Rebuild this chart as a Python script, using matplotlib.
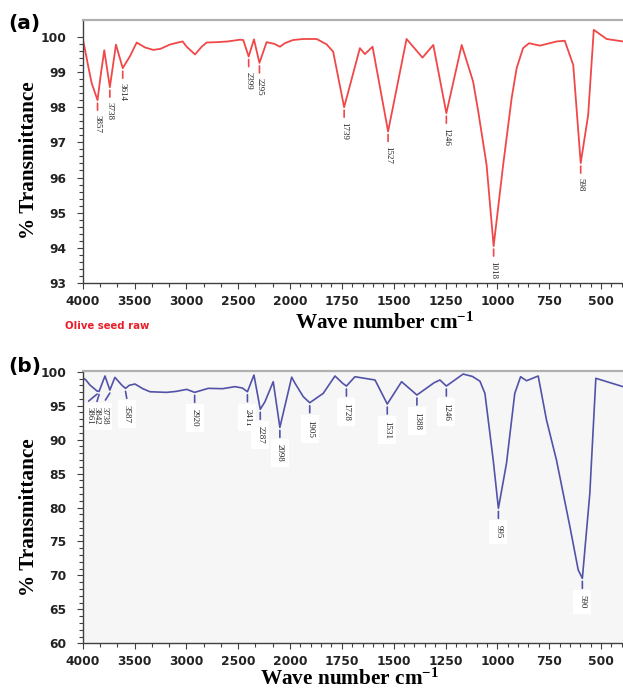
import numpy as np
import matplotlib
matplotlib.use('Agg')
import matplotlib.pyplot as plt
from matplotlib.transforms import ScaledTranslation
from matplotlib.ticker import FixedLocator, FuncFormatter

# ---------------- data ----------------
# (a) Olive seed raw
wn_a = [4000, 3975, 3946, 3913, 3857, 3826, 3792, 3738, 3679, 3614, 3544, 3479,
        3400, 3319, 3250, 3160, 3094, 3036, 2997, 2917, 2852, 2804, 2700, 2600,
        2483, 2451, 2399, 2348, 2295, 2226, 2150, 2097, 2050, 1986, 1936, 1872,
        1824, 1792, 1739, 1663, 1639, 1602, 1527, 1438, 1361, 1309, 1246, 1172,
        1117, 1092, 1052, 1018, 972, 931, 907, 876, 847, 795, 714, 675, 634,
        598, 562, 535, 473, 394]
tr_a = [99.95, 99.6, 99.15, 98.68, 98.2, 98.92, 99.62, 98.57, 99.78, 99.11, 99.45, 99.84,
        99.70, 99.63, 99.66, 99.78, 99.83, 99.87, 99.72, 99.5, 99.72, 99.84, 99.85, 99.87,
        99.92, 99.91, 99.44, 99.93, 99.26, 99.85, 99.8, 99.72, 99.82, 99.91, 99.94, 99.94,
        99.79, 99.58, 98.0, 99.68, 99.51, 99.72, 97.31, 99.94, 99.41, 99.77, 97.83, 99.77,
        98.73, 97.87, 96.36, 94.05, 96.36, 98.26, 99.11, 99.68, 99.82, 99.75, 99.87, 99.89, 99.2,
        96.41, 97.78, 100.2, 99.94, 99.87]
peaks_a = [3857, 3738, 3614, 2399, 2295, 1739, 1527, 1246, 1018, 598]
peak_t_a = [98.2, 98.57, 99.11, 99.44, 99.26, 98.0, 97.31, 97.83, 94.05, 96.41]

# (b)
wn_b = [4000, 3970, 3930, 3861, 3842, 3785, 3738, 3689, 3624, 3587, 3550, 3496,
        3420, 3351, 3190, 3100, 2997, 2920, 2789, 2650, 2531, 2460, 2411, 2348,
        2287, 2242, 2162, 2098, 1992, 1976, 1936, 1905, 1840, 1783, 1746, 1728,
        1687, 1590, 1531, 1462, 1388, 1305, 1277, 1246, 1165, 1120, 1084, 1060,
        1020, 995, 956, 916, 888, 859, 803, 763, 715, 650, 610, 590, 554, 525, 394]
tr_b = [99.1, 98.8, 98.04, 97.15, 97.1, 99.37, 97.3, 99.17, 98.04, 97.55, 98.0, 98.19,
        97.5, 97.05, 96.96, 97.1, 97.4, 96.96, 97.55, 97.5, 97.8, 97.6, 97.05, 99.51,
        94.46, 95.58, 98.53, 91.8, 99.2, 98.3, 96.32, 95.43, 96.81, 99.37, 98.29, 97.89,
        99.26, 98.78, 95.24, 98.53, 96.57, 98.38, 98.78, 97.89, 99.66, 99.3, 98.6, 96.81,
        87.0, 79.88, 86.5, 96.81, 99.26, 98.67, 99.37, 92.89, 87.0, 77.17, 70.8, 69.57, 82.1, 99.03, 97.8]
# crowded group of labels drawn side by side
cluster_b = [3861, 3842, 3738]
cluster_t_b = [97.15, 97.1, 97.3]
cluster_lx_b = [3943, 3862, 3781]
peaks_b = [3587, 2920, 2411, 2287, 2098, 1905, 1728, 1531, 1388, 1246, 995, 590]
peak_t_b = [97.55, 96.96, 97.05, 94.46, 91.8, 95.43, 97.89, 95.24, 96.57, 97.89, 79.88, 69.57]
label_x_b = [3575, 2920, 2411, 2287, 2098, 1905, 1728, 1531, 1388, 1246, 995, 590]

xticks_major = [4000, 3500, 3000, 2500, 2000, 1750, 1500, 1250, 1000, 750, 500]
yticks_a = [93, 94, 95, 96, 97, 98, 99, 100]
yticks_b = [60, 65, 70, 75, 80, 85, 90, 95, 100]

# ---------------- style ----------------
plt.rcParams['mathtext.fontset'] = 'custom'
plt.rcParams['mathtext.rm'] = 'Liberation Serif:bold'
plt.rcParams['mathtext.it'] = 'Liberation Serif:bold:italic'
plt.rcParams['mathtext.bf'] = 'Liberation Serif:bold'

W, H = 623, 689
fig = plt.figure(figsize=(W / 100, H / 100), dpi=100)


# axis is expanded 2x below 2000 cm-1 (increasing mapping)
def fwd(w):
    w = np.asarray(w, dtype=float)
    return np.where(w >= 2000, w, 2 * w - 2000)


def inv(v):
    v = np.asarray(v, dtype=float)
    return np.where(v >= 2000, v, (v + 2000) / 2)


minor_x = list(np.arange(4000, 2000, -500 / 3)) + list(np.arange(2000, 390, -50))


def off(ax, dy_px):
    return ax.transData + ScaledTranslation(0, -dy_px / 100, fig.dpi_scale_trans)


def setup(ax, ylim, yticks, yminor):
    ax.set_xscale('function', functions=(fwd, inv))
    ax.set_xlim(4000, 394)
    ax.set_ylim(*ylim)
    ax.xaxis.set_major_locator(FixedLocator(xticks_major))
    ax.xaxis.set_minor_locator(FixedLocator(minor_x))
    ax.xaxis.set_major_formatter(FuncFormatter(lambda v, p: f"{int(round(v))}"))
    ax.yaxis.set_major_locator(FixedLocator(yticks))
    ax.yaxis.set_minor_locator(FixedLocator(yminor))
    ax.yaxis.set_major_formatter(FuncFormatter(lambda v, p: f"{int(round(v))}"))
    ax.spines['right'].set_visible(False)
    ax.spines['top'].set_color('#b0b0b0')
    ax.spines['top'].set_linewidth(1.6)
    for s in ('left', 'bottom'):
        ax.spines[s].set_color('#404040')
        ax.spines[s].set_linewidth(1.0)
    ax.tick_params(which='both', direction='out', color='#404040', width=0.8)
    ax.tick_params(which='major', length=4)
    ax.tick_params(which='minor', length=3)
    ax.tick_params(axis='x', which='major', pad=4.5)
    ax.tick_params(axis='y', which='major', pad=8)
    for lab in ax.get_xticklabels() + ax.get_yticklabels():
        lab.set_fontfamily('DejaVu Sans')
        lab.set_fontweight('bold')
        lab.set_fontsize(8.8)
        lab.set_color('#222222')


def leader(ax, w, t, lx, color):
    ax.annotate('', xy=(w, t), xycoords=off(ax, 3),
                xytext=(lx, t), textcoords=off(ax, 10),
                arrowprops=dict(arrowstyle='-', color=color, lw=1.2,
                                shrinkA=0, shrinkB=0), zorder=2.5)


def label_peaks(ax, wns, ts, lxs, color, text_gap, fs, box):
    for w, t, lx in zip(wns, ts, lxs):
        leader(ax, w, t, lx, color)
        kw = {}
        if box:
            kw['bbox'] = dict(boxstyle='square,pad=0.55', fc='white', ec='none')
        ax.text(lx, t, str(w), transform=off(ax, text_gap), rotation=270,
                ha='center', va='top', fontsize=fs, family='Liberation Serif',
                color='#222222', zorder=1.5, **kw)


# ---------------- panel (a) ----------------
ax_a = fig.add_axes([82.7 / W, (H - 283) / H, (W - 82.7) / W, (283 - 20) / H])
setup(ax_a, (93, 100.48), yticks_a, list(np.arange(93, 100.01, 0.2)))
ax_a.plot(wn_a, tr_a, color='#f04848', lw=1.3, zorder=2)
label_peaks(ax_a, peaks_a, peak_t_a, peaks_a, '#f04848', 15, 6.5, False)

# ---------------- panel (b) ----------------
ax_b = fig.add_axes([82.7 / W, (H - 643.3) / H, (W - 82.7) / W, (643.3 - 370.7) / H])
ax_b.set_facecolor('#f6f6f6')
setup(ax_b, (60, 100.15), yticks_b, list(np.arange(60, 100.01, 1)))
ax_b.plot(wn_b, tr_b, color='#5252a8', lw=1.2, zorder=2)
label_peaks(ax_b, peaks_b, peak_t_b, label_x_b, '#5252a8', 17, 6.5, True)
for w, t, lx in zip(cluster_b, cluster_t_b, cluster_lx_b):
    leader(ax_b, w, t, lx, '#5252a8')
# one block with the crowded labels (rotated: last line ends up leftmost)
ax_b.text(cluster_lx_b[1], min(cluster_t_b), '\n'.join(str(v) for v in cluster_b[::-1]),
          transform=off(ax_b, 16), rotation=270, ha='center', va='top',
          fontsize=6.3, family='Liberation Serif', color='#222222', linespacing=0.85,
          zorder=1.5, bbox=dict(boxstyle='square,pad=0.5', fc='white', ec='none'))

# ---------------- texts ----------------
serif_bold = dict(family='Liberation Serif', weight='bold')
fig.text(8 / W, 1 - 24 / H, '(a)', fontsize=14.5, weight='bold', family='DejaVu Sans',
         ha='left', va='center')
fig.text(8 / W, 1 - 366.5 / H, '(b)', fontsize=14.5, weight='bold', family='DejaVu Sans',
         ha='left', va='center')
fig.text(29 / W, 1 - 160 / H, '% Transmittance', rotation=90, fontsize=15.3,
         ha='center', va='center', **serif_bold)
fig.text(29 / W, 1 - 517 / H, '% Transmittance', rotation=90, fontsize=15.3,
         ha='center', va='center', **serif_bold)
fig.text(385 / W, 1 - 323 / H, 'Wave number cm$^{-1}$', fontsize=15.3,
         ha='center', va='center', **serif_bold)
fig.text(350 / W, 1 - 679 / H, 'Wave number cm$^{-1}$', fontsize=15.3,
         ha='center', va='center', **serif_bold)
fig.text(65 / W, 1 - 326 / H, 'Olive seed raw', fontsize=7.3, weight='bold',
         family='DejaVu Sans', color='#e8202a', ha='left', va='center')

fig.savefig('out.png', dpi=100)
